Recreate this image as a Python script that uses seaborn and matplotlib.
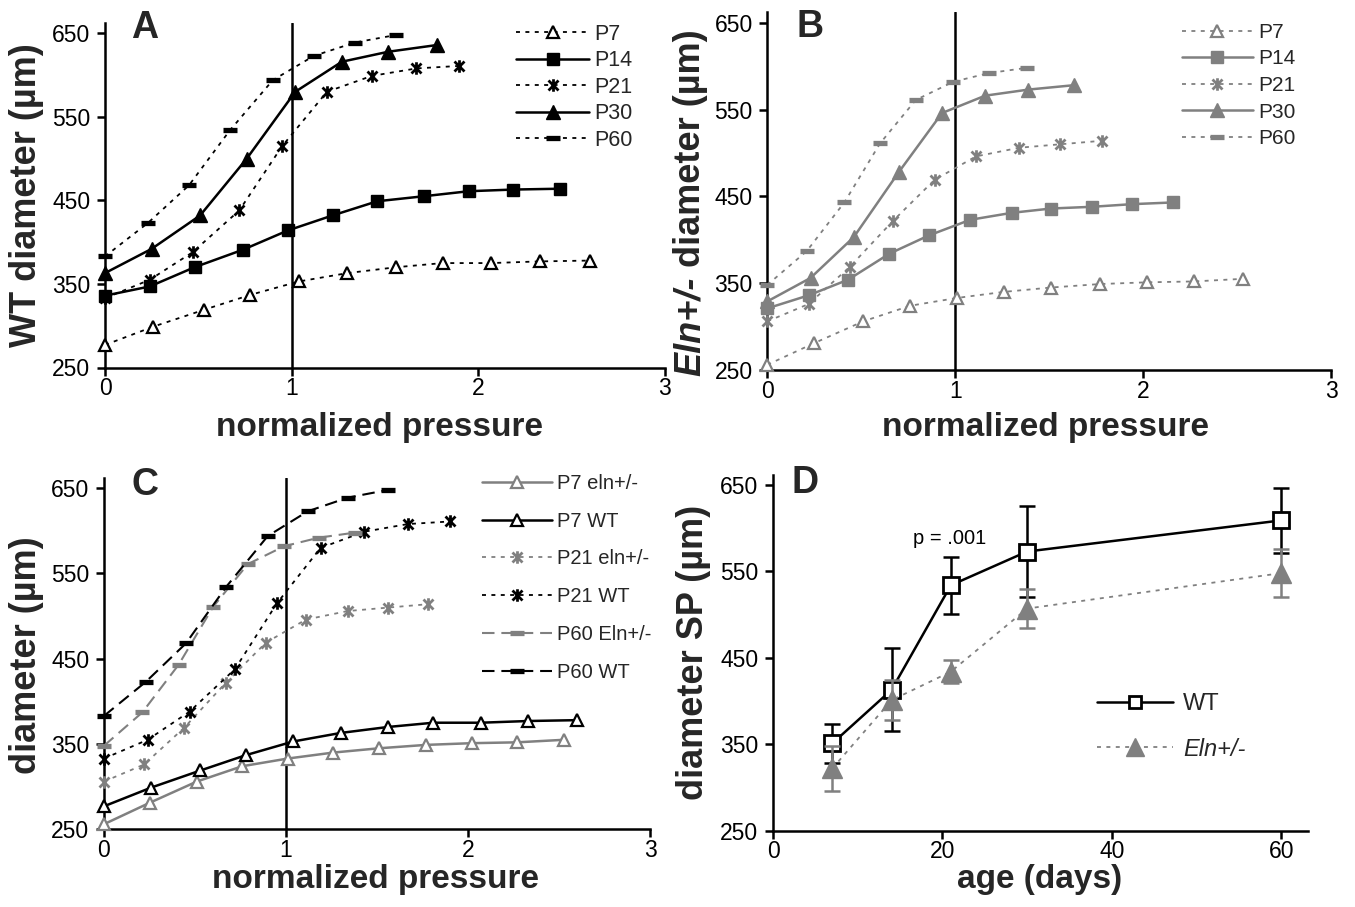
import matplotlib
matplotlib.use("Agg")
import matplotlib.pyplot as plt
from matplotlib.path import Path
from matplotlib.lines import Line2D
import seaborn as sns

# ---------------- data ----------------
# Panel A: WT diameter vs normalized pressure
wt_p7_x = [0, 0.26, 0.53, 0.78, 1.04, 1.30, 1.56, 1.81, 2.07, 2.33, 2.60]
wt_p7_y = [277, 299, 319, 337, 353, 363, 370, 375, 375, 377, 378]
wt_p14_x = [0, 0.24, 0.48, 0.74, 0.98, 1.22, 1.46, 1.71, 1.95, 2.19, 2.44]
wt_p14_y = [336, 347, 370, 391, 414, 432, 449, 455, 461, 463, 464]
wt_p21_x = [0, 0.24, 0.47, 0.72, 0.95, 1.19, 1.43, 1.67, 1.90]
wt_p21_y = [333, 355, 388, 438, 515, 580, 599, 608, 611]
wt_p30_x = [0, 0.25, 0.51, 0.76, 1.02, 1.27, 1.52, 1.78]
wt_p30_y = [363, 392, 432, 500, 580, 616, 628, 636]
wt_p60_x = [0, 0.23, 0.45, 0.67, 0.90, 1.12, 1.34, 1.56]
wt_p60_y = [383, 423, 468, 534, 594, 623, 639, 648]

# Panel B: Eln+/- diameter vs normalized pressure
eln_p7_x = [0, 0.25, 0.51, 0.76, 1.01, 1.26, 1.51, 1.77, 2.02, 2.27, 2.53]
eln_p7_y = [256, 281, 306, 324, 333, 340, 345, 349, 351, 352, 355]
eln_p14_x = [0, 0.22, 0.43, 0.65, 0.86, 1.08, 1.30, 1.51, 1.73, 1.94, 2.16]
eln_p14_y = [321, 336, 354, 384, 405, 423, 431, 436, 438, 441, 443]
eln_p21_x = [0, 0.22, 0.44, 0.67, 0.89, 1.11, 1.34, 1.56, 1.78]
eln_p21_y = [306, 326, 369, 422, 469, 496, 506, 510, 514]
eln_p30_x = [0, 0.23, 0.46, 0.70, 0.93, 1.16, 1.39, 1.63]
eln_p30_y = [329, 356, 403, 478, 546, 566, 573, 578]
eln_p60_x = [0, 0.21, 0.41, 0.60, 0.79, 0.99, 1.18, 1.38]
eln_p60_y = [348, 387, 443, 511, 561, 582, 592, 598]

# Panel D: diameter at SP vs age
age_days = [7, 14, 21, 30, 60]
wt_sp = [351, 413, 534, 573, 609]
wt_sp_err = [23, 48, 33, 53, 38]
eln_sp = [322, 401, 434, 507, 548]
eln_sp_err = [26, 23, 13, 23, 28]

labels_ab = ["P7", "P14", "P21", "P30", "P60"]
labels_c = ["P7 eln+/-", "P7 WT", "P21 eln+/-", "P21 WT", "P60 Eln+/-", "P60 WT"]
labels_d = ["WT", "Eln+/-"]
yticks = [250, 350, 450, 550, 650]
xticks_p = [0, 1, 2, 3]
xticks_age = [0, 20, 40, 60]

# ---------------- style ----------------
W, H = 1355, 907
sns.set_style("ticks")
plt.rcParams["font.family"] = ["Liberation Sans", "DejaVu Sans"]
plt.rcParams["axes.linewidth"] = 1.8
plt.rcParams["axes.edgecolor"] = "black"

BLACK = "#000000"
GRAY = "#808080"
DOT = (0, (2.2, 3.0))
DASH = (0, (6.0, 3.3))

ast_path = Path([(-1, -1), (1, 1), (-1, 1), (1, -1), (0, -1.25), (0, 1.25)],
                [Path.MOVETO, Path.LINETO] * 3)

fig = plt.figure(figsize=(W / 100, H / 100), dpi=100)


def add_axes(l, r, b, t):
    return fig.add_axes([l / W, 1 - b / H, (r - l) / W, (b - t) / H])


def style_axes(ax, xlim, xt):
    ax.set_xlim(*xlim)
    ax.set_ylim(250, 662)
    ax.set_xticks(xt)
    ax.set_yticks(yticks)
    for s in ["top", "right"]:
        ax.spines[s].set_visible(False)
    ax.tick_params(direction="out", length=5.5, width=1.8, labelsize=16.5,
                   color="black", labelcolor="black")
    ax.tick_params(axis="x", pad=1.5)
    ax.tick_params(axis="y", pad=5)
    ax.set_xlabel("")
    ax.set_ylabel("")
    ax.patch.set_alpha(0)


def series(ax, x, y, color, ls, lw, marker, ms, mfc, mew, label):
    sns.lineplot(x=x, y=y, ax=ax, color=color, linestyle=ls, linewidth=lw,
                 marker=marker, markersize=ms, markerfacecolor=mfc,
                 markeredgecolor=color, markeredgewidth=mew,
                 estimator=None, sort=False, clip_on=False, zorder=5)
    line = ax.lines[-1]
    line.set_label(label)
    return line


def style_for(kind, color):
    # returns (ls, lw, marker, ms, mfc, mew)
    if kind == "P7":
        return (DOT, 1.3, "^", 9, "white", 1.6)
    if kind == "P14":
        return ("-", 1.8, "s", 8, color, 1.0)
    if kind == "P21":
        return (DOT, 1.3, ast_path, 9, "none", 2.0)
    if kind == "P30":
        return ("-", 1.8, "^", 10, color, 1.0)
    return (DOT, 1.3, "_", 10, color, 3.8)


def fx(x):
    return x / W


def fy(y):
    return 1 - y / H


# ---------------- Panel A ----------------
axA = add_axes(105, 664.5, 367.5, 23.3)
style_axes(axA, (0, 3), xticks_p)
axA.axvline(1, color="black", lw=1.8, zorder=3)
hA = []
for lab, x, y in zip(labels_ab,
                     [wt_p7_x, wt_p14_x, wt_p21_x, wt_p30_x, wt_p60_x],
                     [wt_p7_y, wt_p14_y, wt_p21_y, wt_p30_y, wt_p60_y]):
    ls, lw, mk, ms, mfc, mew = style_for(lab, BLACK)
    hA.append(series(axA, x, y, BLACK, ls, lw, mk, ms, mfc, mew, lab))
axA.legend(handles=hA, labels=labels_ab, loc="upper left",
           bbox_to_anchor=(fx(516), fy(24)), bbox_transform=fig.transFigure,
           frameon=False, fontsize=15.5, handlelength=3.4, handletextpad=0.25,
           labelspacing=0.25, borderpad=0, borderaxespad=0)

# ---------------- Panel B ----------------
axB = add_axes(767.3, 1331, 370, 12.3)
style_axes(axB, (0, 3), xticks_p)
axB.axvline(1, color="black", lw=1.8, zorder=3)
hB = []
for lab, x, y in zip(labels_ab,
                     [eln_p7_x, eln_p14_x, eln_p21_x, eln_p30_x, eln_p60_x],
                     [eln_p7_y, eln_p14_y, eln_p21_y, eln_p30_y, eln_p60_y]):
    ls, lw, mk, ms, mfc, mew = style_for(lab, GRAY)
    hB.append(series(axB, x, y, GRAY, ls, lw, mk, ms, mfc, mew, lab))
axB.legend(handles=hB, labels=labels_ab, loc="upper left",
           bbox_to_anchor=(fx(1182), fy(23)), bbox_transform=fig.transFigure,
           frameon=False, fontsize=15, handlelength=3.4, handletextpad=0.25,
           labelspacing=0.36, borderpad=0, borderaxespad=0)

# ---------------- Panel C ----------------
axC = add_axes(104, 650, 829.3, 478)
style_axes(axC, (0, 3), xticks_p)
axC.axvline(1, color="black", lw=1.8, zorder=3)
hC = []
hC.append(series(axC, eln_p7_x, eln_p7_y, GRAY, "-", 1.8, "^", 9, "white", 1.6, labels_c[0]))
hC.append(series(axC, wt_p7_x, wt_p7_y, BLACK, "-", 1.8, "^", 9, "white", 1.6, labels_c[1]))
hC.append(series(axC, eln_p21_x, eln_p21_y, GRAY, DOT, 1.3, ast_path, 9, "none", 2.0, labels_c[2]))
hC.append(series(axC, wt_p21_x, wt_p21_y, BLACK, DOT, 1.3, ast_path, 9, "none", 2.0, labels_c[3]))
hC.append(series(axC, eln_p60_x, eln_p60_y, GRAY, DASH, 1.5, "_", 10, GRAY, 3.8, labels_c[4]))
hC.append(series(axC, wt_p60_x, wt_p60_y, BLACK, DASH, 1.5, "_", 10, BLACK, 3.8, labels_c[5]))
axC.legend(handles=hC, labels=labels_c, loc="upper left",
           bbox_to_anchor=(fx(482), fy(474)), bbox_transform=fig.transFigure,
           frameon=False, fontsize=14.5, handlelength=3.5, handletextpad=0.2,
           labelspacing=0.93, borderpad=0, borderaxespad=0)

# ---------------- Panel D ----------------
axD = add_axes(773, 1307.5, 830.7, 474.6)
style_axes(axD, (0, 63.1), xticks_age)
axD.errorbar(age_days, wt_sp, yerr=wt_sp_err, fmt="none", ecolor=BLACK,
             elinewidth=1.8, capsize=5.5, capthick=1.8, zorder=4)
series(axD, age_days, wt_sp, BLACK, "-", 1.8, "s", 11, "white", 2.0, labels_d[0])
axD.errorbar(age_days, eln_sp, yerr=eln_sp_err, fmt="none", ecolor=GRAY,
             elinewidth=1.8, capsize=5.5, capthick=1.8, zorder=6)
series(axD, age_days, eln_sp, GRAY, DOT, 1.3, "^", 14, GRAY, 1.0, labels_d[1])
hD = [Line2D([], [], color=BLACK, lw=1.8, marker="s", markersize=8.5,
             markerfacecolor="white", markeredgecolor=BLACK, markeredgewidth=2.0),
      Line2D([], [], color=GRAY, lw=1.3, linestyle=DOT, marker="^", markersize=13,
             markerfacecolor=GRAY, markeredgecolor=GRAY)]
legD = axD.legend(handles=hD, labels=labels_d, loc="upper left",
                  bbox_to_anchor=(fx(1097), fy(693)), bbox_transform=fig.transFigure,
                  frameon=False, fontsize=17, handlelength=3.2, handletextpad=0.45,
                  labelspacing=0.96, borderpad=0, borderaxespad=0)
legD.get_texts()[1].set_style("italic")
axD.text(20.8, 581.5, "p = .001", fontsize=14.5, ha="center", va="baseline", color="black")

# ---------------- labels ----------------
XL = 24
YL = 26
fig.text(fx(380), fy(436), "normalized pressure", fontsize=XL, fontweight="bold",
         ha="center", va="baseline")
fig.text(fx(1045), fy(436), "normalized pressure", fontsize=XL, fontweight="bold",
         ha="center", va="baseline")
fig.text(fx(376), fy(888), "normalized pressure", fontsize=XL, fontweight="bold",
         ha="center", va="baseline")
fig.text(fx(1040), fy(888), "age (days)", fontsize=XL, fontweight="bold",
         ha="center", va="baseline")

fig.text(fx(27), fy(195), "WT diameter (µm)", fontsize=YL, fontweight="bold",
         rotation=90, ha="center", va="center")
fig.text(fx(27), fy(655), "diameter (µm)", fontsize=YL, fontweight="bold",
         rotation=90, ha="center", va="center")
fig.text(fx(694), fy(652), "diameter SP (µm)", fontsize=YL, fontweight="bold",
         rotation=90, ha="center", va="center")
t1 = fig.text(fx(690), fy(376), "Eln+/-", fontsize=YL, fontweight="bold",
              fontstyle="italic", rotation=90, ha="center", va="bottom")
fig.add_artist(matplotlib.text.Annotation(
    " diameter (µm)", xy=(0.5, 1.0), xycoords=t1, fontsize=YL,
    fontweight="bold", rotation=90, ha="center", va="bottom",
    annotation_clip=False))

# panel letters
for letter, x, y in [("A", 145, 38), ("B", 810, 37), ("C", 145, 495), ("D", 805, 493)]:
    fig.text(fx(x), fy(y), letter, fontsize=27, fontweight="bold",
             ha="center", va="baseline")

fig.savefig("out.png", dpi=100)
